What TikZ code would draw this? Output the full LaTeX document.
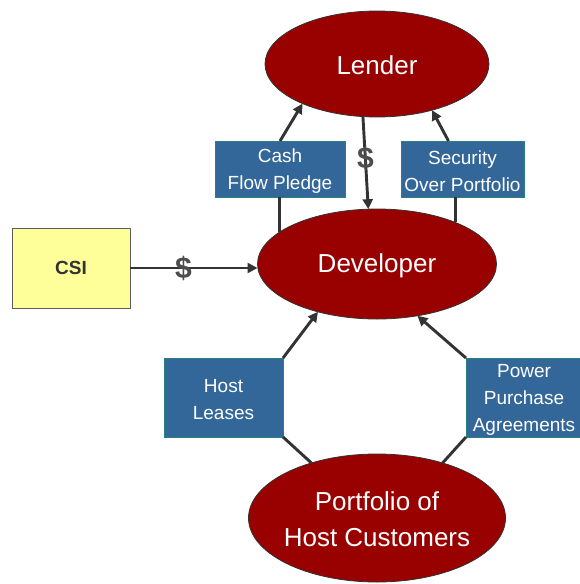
\documentclass[tikz,border=0pt]{standalone}
\usepackage{fontspec}
\setmainfont{Liberation Sans}
\usetikzlibrary{shapes.geometric,arrows.meta,calc}
\definecolor{ered}{HTML}{990000}
\definecolor{bblue}{HTML}{336699}
\definecolor{bedge}{HTML}{2A7F7F}
\definecolor{lgray}{HTML}{333333}
\definecolor{dollar}{HTML}{4D4D4D}
\definecolor{cyel}{HTML}{FFFF99}
\begin{document}
\begin{tikzpicture}[x=1pt,y=-1pt,
 ell/.style={ellipse,draw=lgray,line width=0.8pt,fill=ered,inner sep=0pt,outer sep=0pt},
 etext/.style={text=white,font=\fontsize{26}{36}\selectfont,align=center},
 box/.style={rectangle,draw=bedge,line width=0.8pt,fill=bblue,text=white,font=\fontsize{19}{27}\selectfont,align=center,inner sep=0pt,outer sep=0pt},
 btext/.style={text=white,font=\fontsize{19}{27}\selectfont,align=center},
 conn/.style={draw=lgray,line width=2.9pt},
 arr/.style={conn,-{Triangle[length=10pt,width=10pt]}},
 money/.style={text=dollar,font=\bfseries\fontsize{30}{30}\selectfont}]
\useasboundingbox (0,0) rectangle (579,584);
\node[ell,minimum width=224pt,minimum height=106pt] (lender) at (377,64) {};
\node[etext] at ([yshift=-1pt]lender) {Lender};
\node[ell,minimum width=239pt,minimum height=110pt] (dev) at (377,264) {};
\node[etext] at ([yshift=-2pt]dev) {Developer};
\node[ell,minimum width=257pt,minimum height=128pt] (port) at (377,518) {};
\node[etext] at ([yshift=-1pt]port) {Portfolio of\\Host Customers};
\node[rectangle,draw=lgray!80,line width=0.8pt,fill=cyel,minimum width=118pt,minimum height=80pt,inner sep=0pt,outer sep=0pt,font=\bfseries\fontsize{19}{22}\selectfont,text=lgray] (csi) at (71,268) {CSI};
\node[box,minimum width=130pt,minimum height=56pt] (cfp) at (280,169) {};
\node[btext] at ([yshift=-2pt]cfp) {Cash\\Flow Pledge};
\node[box,minimum width=123pt,minimum height=56pt] (sop) at (462.5,169) {};
\node[btext] at ([yshift=-2pt]sop) {Security\\Over Portfolio};
\node[box,minimum width=119pt,minimum height=79pt] (hl) at (223.5,397.5) {};
\node[btext] at ([yshift=-2pt]hl) {Host\\Leases};
\node[box,minimum width=116pt,minimum height=79pt] (ppa) at (524,397.5) {};
\node[btext] at ([yshift=-2pt]ppa) {Power\\Purchase\\Agreements};
\draw[arr] (cfp.north) -- (lender.208);
\draw[conn] (dev.162) -- (dev.162 |- cfp.south);
\draw[arr] ([xshift=-14pt]sop.north) -- (lender.320);
\draw[conn] (dev.28) -- (dev.28 |- sop.south);
\draw[arr] (lender.255) -- node[money,pos=0.45]{\$} (dev.99);
\draw[arr] (csi.east) -- node[money,pos=0.42]{\$} (csi.east -| dev.west);
\draw[arr] (hl.north east) -- (dev.219);
\draw[conn] (hl.south east) -- (port.140);
\draw[arr] (ppa.north west) -- (dev.308);
\draw[conn] (ppa.south west) -- (port.40);
\end{tikzpicture}
\end{document}
